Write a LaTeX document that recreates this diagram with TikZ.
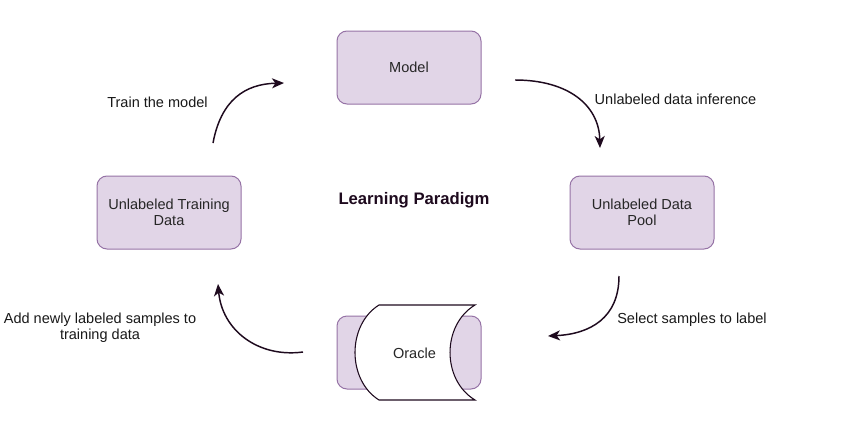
\documentclass[tikz,border=0pt]{standalone}
\usepackage{fontspec}
\setmainfont{Liberation Sans}
\usetikzlibrary{arrows.meta}
\definecolor{boxfill}{HTML}{E1D5E7}
\definecolor{boxline}{HTML}{9673A6}
\definecolor{arrowc}{HTML}{1E0A1E}
\tikzset{
  box/.style={draw=boxline, fill=boxfill, rounded corners=7.5pt, line width=0.75pt,
    minimum width=108pt, minimum height=54.75pt, inner sep=0pt, align=center,
    font=\fontsize{10.9}{12}\selectfont, text=black!85},
  lbl/.style={font=\fontsize{10.9}{12}\selectfont, align=center, inner sep=0pt, text=black!90},
  flow/.style={draw=arrowc, line width=1.1pt, -{Stealth[length=9pt,width=7.5pt,inset=2.5pt]}},
}
\begin{document}
\begin{tikzpicture}[x=0.75pt,y=-0.75pt]
\useasboundingbox[fill=white] (0,0) rectangle (849,439);
% boxes
\node[box] (model) at (409,67.5) {Model};
\node[box] (train) at (169,212.5) {Unlabeled Training\\Data};
\node[box] (pool) at (642,212.5) {Unlabeled Data\\Pool};
\node[box] (oraclebg) at (409,352.5) {};
% oracle front shape
\draw[draw=arrowc, line width=0.8pt, fill=white]
  (379,305) -- (475,305) .. controls (441.7,325) and (441.7,380) .. (475,400)
  -- (379,400) .. controls (347,380) and (347,325) .. (379,305) -- cycle;
\node[lbl, text=black!85] (oracle) at (414.5,353) {Oracle};
% title
\node[lbl, font=\fontsize{12.5}{14}\selectfont\bfseries, text=arrowc] (title) at (414,200) {Learning Paradigm};
% arrow coordinates
\coordinate (a1s) at (213,143); \coordinate (a1e) at (284,83);
\coordinate (a2s) at (515,80); \coordinate (a2e) at (600,148);
\coordinate (a3s) at (619,276); \coordinate (a3e) at (548,336);
\coordinate (a4s) at (303,352); \coordinate (a4e) at (218,284);
\draw[flow] (a1s) .. controls (221,100) and (245,84) .. (a1e);
\draw[flow] (a2s) .. controls (568,80) and (599,105) .. (a2e);
\draw[flow] (a3s) .. controls (619,318) and (590,334) .. (a3e);
\draw[flow] (a4s) .. controls (258,358) and (222,330) .. (a4e);
% labels
\node[lbl] (l1) at (157.5,102) {Train the model};
\node[lbl] (l2) at (675.5,99) {Unlabeled data inference};
\node[lbl] (l3) at (692,320) {Select samples to label};
\node[lbl] (l4) at (100,328) {Add newly labeled samples to\\training data};
\end{tikzpicture}
\end{document}
